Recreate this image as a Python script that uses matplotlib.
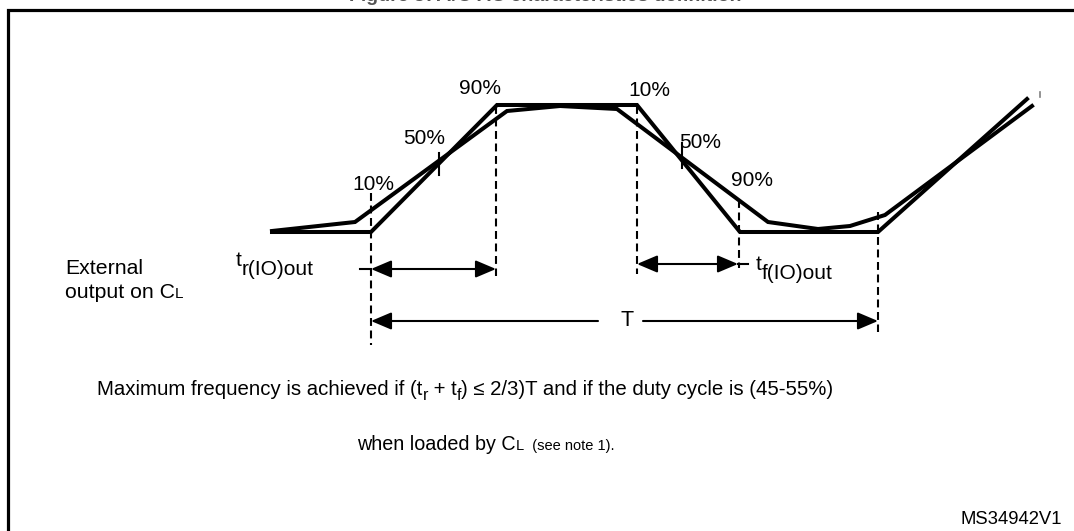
import matplotlib.pyplot as plt
from matplotlib.patches import FancyArrowPatch

plt.rcParams['font.family'] = ['Liberation Sans', 'DejaVu Sans']

# waveforms (diagram pixel coordinates)
sharp_x = [272, 371, 497, 637, 740, 878, 1027]
sharp_y = [232, 232, 105, 105, 232, 232, 99]
soft_x = [272, 355, 507, 560, 617, 768, 818, 850, 885, 1032]
soft_y = [231, 222, 111, 106, 109, 222, 229, 226, 215, 106]

# dashed guide lines: x, y_top, y_bottom
guide_x = [371, 496, 637, 739, 878]
guide_top = [193, 106, 106, 200, 212]
guide_bot = [345, 276, 274, 268, 332]

# percent labels
pct_labels = ['10%', '50%', '90%', '10%', '50%', '90%']
pct_x = [373, 424, 480, 649, 700, 752]
pct_y = [185, 138, 88, 90, 142, 180]

fig = plt.figure(figsize=(10.74, 5.31), dpi=100)
ax = fig.add_axes([0, 0, 1, 1])
ax.set_xlim(0, 1074)
ax.set_ylim(531, 0)
ax.axis('off')
renderer = fig.canvas.get_renderer()


def run(x, y, pieces):
    # pieces: (text, fontsize, baseline shift in px)
    for s, size, dy in pieces:
        t = ax.text(x, y + dy, s, ha='left', va='baseline', fontsize=size)
        x += t.get_window_extent(renderer).width


# frame (top and left edges only)
ax.plot([8, 8, 1074], [531, 10, 10], color='black', lw=2.3, solid_joinstyle='miter')

# title, mostly cut off at the top
ax.text(545, 0.6, 'Figure 37. I/O AC characteristics definition', ha='center', va='baseline',
        fontsize=14, fontweight='bold', color='#555555')

ax.plot(sharp_x, sharp_y, color='black', lw=2.9, solid_joinstyle='miter')
ax.plot(soft_x, soft_y, color='black', lw=2.9, solid_joinstyle='miter')

for gx, gt, gb in zip(guide_x, guide_top, guide_bot):
    ax.plot([gx, gx], [gt, gb], color='black', lw=1.5, ls=(0, (3.8, 2.2)))

# 50% ticks
ax.plot([439, 439], [153, 175], color='black', lw=1.5)
ax.plot([682, 682], [143, 168], color='black', lw=1.5)
ax.plot([1040, 1040], [92, 97], color='gray', lw=1.2)

for lab, x, y in zip(pct_labels, pct_x, pct_y):
    ax.text(x, y, lab, ha='center', va='center', fontsize=15)


def arrow(x0, x1, y, style):
    a = FancyArrowPatch((x0, y), (x1, y), arrowstyle=style + ',head_length=12.5,head_width=5.3',
                        mutation_scale=1, shrinkA=0, shrinkB=0, color='black', lw=1.5)
    ax.add_patch(a)


# rise / fall / period arrows
arrow(371, 496, 269, '<|-|>')
ax.plot([360, 371], [269, 269], color='black', lw=1.5)
arrow(637, 738, 264, '<|-|>')
ax.plot([738, 748], [264, 264], color='black', lw=1.5)
arrow(371, 598, 321, '<|-')
arrow(643, 878, 321, '-|>')
ax.text(627, 321, 'T', ha='center', va='center', fontsize=15.5)

ax.text(65, 274, 'External', ha='left', va='baseline', fontsize=15.3)
run(65, 298, [('output on C', 15.3, 0), ('L', 11, 0)])

run(236, 266, [('t', 15, 0), ('r(IO)out', 15, 9)])
run(756, 270, [('t', 15, 0), ('f(IO)out', 15, 9)])

run(97, 395, [('Maximum frequency is achieved if (t', 14.7, 0), ('r', 11.5, 5),
              (' + t', 14.7, 0), ('f', 11.5, 5),
              (') ≤ 2/3)T and if the duty cycle is (45-55%)', 14.7, 0)])
run(357, 450, [('when loaded by C', 14.2, 0), ('L', 10.5, 0), ('  (see note 1).', 10.5, 0)])

ax.text(1062, 520, 'MS34942V1', ha='right', va='center', fontsize=13.3)

fig.savefig('out.png', dpi=100)
